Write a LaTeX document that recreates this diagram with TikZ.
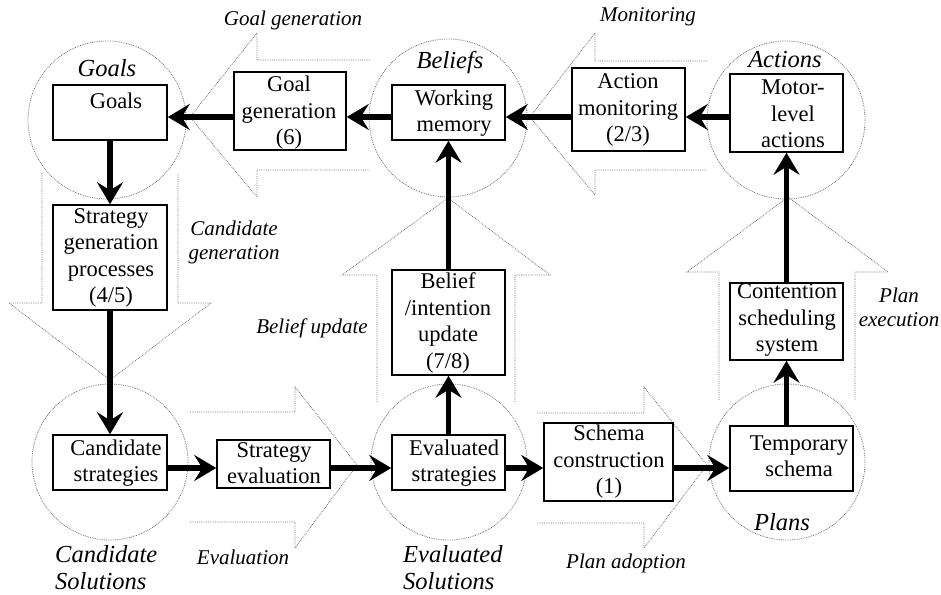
\documentclass[tikz,border=0pt]{standalone}
\usepackage{fontspec}
\setmainfont{Liberation Serif}
\usetikzlibrary{arrows.meta}
\begin{document}
\begin{tikzpicture}[x=1bp,y=-1bp,
  box/.style={draw, fill=white, line width=1.5bp, inner sep=0pt},
  boxtext/.style={font=\fontsize{22.5bp}{26.5bp}\selectfont, align=center, inner sep=0pt},
  proc/.style={font=\fontsize{21bp}{24bp}\selectfont\itshape, align=center, inner sep=0pt},
  store/.style={font=\fontsize{24.5bp}{27bp}\selectfont\itshape, align=left, inner sep=0pt},
  zone/.style={draw=black!55, line width=0.8bp, densely dotted},
  flow/.style={line width=5.5bp, -{Stealth[length=22bp,width=26bp,inset=8bp]}},
]
\useasboundingbox (0,0) rectangle (941,595);

% dotted state circles
\draw[zone] (107,120) circle[radius=79];
\draw[zone] (448,118) circle[radius=79];
\draw[zone] (786,120) circle[radius=79];
\draw[zone] (110,462) circle[radius=78];
\draw[zone] (449,462) circle[radius=78];
\draw[zone] (787,462) circle[radius=78];

% hollow process arrows
\draw[zone] (370,60) -- (257,60) -- (257,33) -- (190,117) -- (257,197) -- (257,170) -- (370,170);
\draw[zone] (707,61) -- (595,61) -- (595,33) -- (530,117) -- (595,195) -- (595,170) -- (707,170);
\draw[zone] (42,173) -- (42,303) -- (9,303) -- (110,380) -- (211,303) -- (178,303) -- (178,173);
\draw[zone] (377,402) -- (377,275) -- (342,275) -- (448,198) -- (550,275) -- (515,275) -- (515,402);
\draw[zone] (719,400) -- (719,272) -- (687,272) -- (788,197) -- (888,272) -- (855,272) -- (855,400);
\draw[zone] (190,412) -- (295,412) -- (295,387) -- (357,465) -- (295,548) -- (295,522) -- (190,522);
\draw[zone] (537,413) -- (644,413) -- (644,387) -- (707,465) -- (644,548) -- (644,523) -- (537,523);

% boxes
\node[box, minimum width=114bp, minimum height=55bp] (goals) at (110,112.5) {};
\node[box, minimum width=112bp, minimum height=78bp] (goalgen) at (290,111) {};
\node[box, minimum width=113bp, minimum height=55bp] (wm) at (448.5,112.5) {};
\node[box, minimum width=113bp, minimum height=83bp] (actmon) at (628.5,109.5) {};
\node[box, minimum width=113bp, minimum height=78bp] (motor) at (786.5,113) {};
\node[box, minimum width=114bp, minimum height=105bp] (stratgen) at (110,257.5) {};
\node[box, minimum width=113bp, minimum height=105bp] (belief) at (448.5,322.5) {};
\node[box, minimum width=113bp, minimum height=77bp] (cont) at (786.5,321.5) {};
\node[box, minimum width=114bp, minimum height=55bp] (cand) at (110,462.5) {};
\node[box, minimum width=113bp, minimum height=48bp] (streval) at (273.5,464) {};
\node[box, minimum width=113bp, minimum height=55bp] (evalstrat) at (448.5,462.5) {};
\node[box, minimum width=129bp, minimum height=78bp] (schema) at (608.5,462) {};
\node[box, minimum width=123bp, minimum height=65bp] (temp) at (791.5,458.5) {};

% box texts
\node[boxtext] (goalsT) at (116,101) {Goals};
\node[boxtext] (goalgenT) at (289,113) {Goal\\generation\\(6)};
\node[boxtext] (wmT) at (454,113) {Working\\memory};
\node[boxtext] (actmonT) at (628,110) {Action\\monitoring\\(2/3)};
\node[boxtext] (motorT) at (793,114) {Motor-\\level\\actions};
\node[boxtext] (stratgenT) at (111,258) {Strategy\\generation\\processes\\(4/5)};
\node[boxtext] (beliefT) at (448,323) {Belief\\/intention\\update\\(7/8)};
\node[boxtext] (contT) at (787,320) {Contention\\scheduling\\system};
\node[boxtext] (candT) at (116,463) {Candidate\\strategies};
\node[boxtext] (strevalT) at (274,463) {Strategy\\evaluation};
\node[boxtext] (evalT) at (454,463) {Evaluated\\strategies};
\node[boxtext] (schemaT) at (609,462) {Schema\\construction\\(1)};
\node[boxtext] (tempT) at (799,456) {Temporary\\schema};

% store titles
\node[store] (sgoals) at (107,68) {Goals};
\node[store] (sbeliefs) at (450,62) {Beliefs};
\node[store] (sactions) at (785,60) {Actions};
\node[store] (splans) at (782,522) {Plans};
\node[store, anchor=west] (scand) at (55,568) {Candidate\\Solutions};
\node[store, anchor=west] (seval) at (403,568) {Evaluated\\Solutions};

% process labels
\node[proc] (pgoalgen) at (293,20) {Goal generation};
\node[proc] (pmon) at (648,17) {Monitoring};
\node[proc] (pcand) at (234,242) {Candidate\\generation};
\node[proc] (pbelief) at (312,328) {Belief update};
\node[proc] (pexec) at (899,307) {Plan\\execution};
\node[proc] (peval) at (243,557) {Evaluation};
\node[proc] (padopt) at (626,563) {Plan adoption};

% flows between boxes
\draw[flow] (goalgen.west |- 0,117) -- (goals.east |- 0,117);
\draw[flow] (wm.west |- 0,117) -- (goalgen.east |- 0,117);
\draw[flow] (actmon.west |- 0,117) -- (wm.east |- 0,117);
\draw[flow] (motor.west |- 0,117) -- (actmon.east |- 0,117);
\draw[flow] (goals.south) -- (stratgen.north);
\draw[flow] (stratgen.south) -- (cand.north);
\draw[flow] (cand.east |- 0,468) -- (streval.west |- 0,468);
\draw[flow] (streval.east |- 0,468) -- (evalstrat.west |- 0,468);
\draw[flow] (evalstrat.east |- 0,468) -- (schema.west |- 0,468);
\draw[flow] (schema.east |- 0,468) -- (temp.west |- 0,468);
\draw[flow] (evalstrat.north) -- (belief.south);
\draw[flow] (belief.north) -- (wm.south);
\draw[flow] (temp.north -| cont.south) -- (cont.south);
\draw[flow] (cont.north) -- (motor.south -| cont.north);
\end{tikzpicture}
\end{document}
